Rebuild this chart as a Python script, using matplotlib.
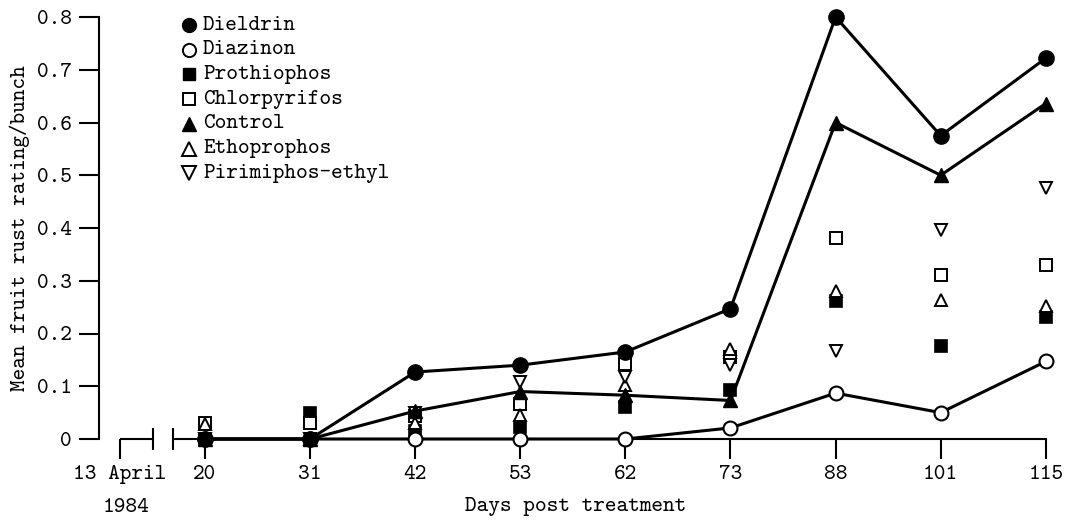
import matplotlib
matplotlib.use("Agg")
import matplotlib.pyplot as plt
import numpy as np
from matplotlib.lines import Line2D

# ---- data ----
days = [20, 31, 42, 53, 62, 73, 88, 101, 115]
dieldrin     = [0.0, 0.0, 0.127, 0.140, 0.165, 0.247, 0.800, 0.575, 0.722]
diazinon     = [0.0, 0.0, 0.0, 0.0, 0.0, 0.021, 0.087, 0.050, 0.147]
control      = [0.0, 0.0, 0.053, 0.090, 0.083, 0.073, 0.600, 0.500, 0.636]
prothiophos  = [0.0, 0.050, 0.016, 0.022, 0.060, 0.093, 0.262, 0.177, 0.232]
chlorpyrifos = [0.030, 0.030, 0.043, 0.066, 0.143, 0.155, 0.381, 0.310, 0.329]
ethoprophos  = [0.028, 0.0, 0.030, 0.045, 0.102, 0.170, 0.281, 0.263, 0.252]
pirimiphos   = [0.0, 0.0, 0.050, 0.108, 0.118, 0.140, 0.167, 0.397, 0.475]
y_ticks = [0, 0.1, 0.2, 0.3, 0.4, 0.5, 0.6, 0.7, 0.8]
y_tick_labels = ['0', '0.1', '0.2', '0.3', '0.4', '0.5', '0.6', '0.7', '0.8']
start_label = "13 April"
start_year = "1984"
labels = ["Dieldrin", "Diazinon", "Prothiophos", "Chlorpyrifos", "Control",
          "Ethoprophos", "Pirimiphos-ethyl"]

FONT = ["cmtt10", "DejaVu Sans Mono"]
plt.rcParams['font.family'] = FONT
plt.rcParams['axes.unicode_minus'] = False
FS = 16

W, H = 1075, 521
fig = plt.figure(figsize=(W / 100, H / 100), dpi=100)

# pixel geometry of the axes
px_per_cat = 105.1
x0_px = 205.0          # pixel of first category
yaxis_px = 99.0
right_px = 1062.0
y0_px = 439.0
px_per_unit = 527.5
ymin, ymax = 0.0, 0.82
xmin = (yaxis_px - x0_px) / px_per_cat
xmax = (right_px - x0_px) / px_per_cat
top_px = y0_px - ymax * px_per_unit
bot_px = y0_px - ymin * px_per_unit
ax = fig.add_axes([yaxis_px / W, 1 - bot_px / H, (right_px - yaxis_px) / W, (bot_px - top_px) / H])
ax.set_xlim(xmin, xmax)
ax.set_ylim(ymin, ymax)
ax.patch.set_alpha(0)

xs = np.arange(len(days))
start_x = (120 - x0_px) / px_per_cat
brk_l = (153 - x0_px) / px_per_cat
brk_r = (173 - x0_px) / px_per_cat

# spines
for s in ['top', 'right']:
    ax.spines[s].set_visible(False)
ax.spines['left'].set_bounds(0, 0.8)
ax.spines['left'].set_linewidth(1.5)
ax.spines['bottom'].set_bounds(brk_r, xs[-1])
ax.spines['bottom'].set_linewidth(1.5)
ax.set_yticks(y_ticks)
ax.set_yticklabels(y_tick_labels)
ax.tick_params(axis='y', length=14.5, width=1.5, pad=5, labelsize=FS)

# broken x axis
lk = dict(color='black', lw=1.5, clip_on=False, zorder=1, solid_capstyle='butt')
ax.plot([start_x, brk_l], [0, 0], **lk)
bh = 11 / px_per_unit
ax.plot([brk_l, brk_l], [-bh, bh], **lk)
ax.plot([brk_r, brk_r], [-bh, bh], **lk)
ax.set_xticks([start_x] + list(xs))
ax.set_xticklabels([start_label] + [str(d) for d in days])
ax.tick_params(axis='x', length=14.5, width=1.5, pad=4, labelsize=FS, direction='out')
ax.text(start_x + 6 / px_per_cat, -68 / px_per_unit, start_year, ha='center', va='center', fontsize=FS)
ax.set_xlabel("Days post treatment", fontsize=FS)
ax.xaxis.set_label_coords((576 - yaxis_px) / (right_px - yaxis_px), -68 / (bot_px - top_px))
ax.xaxis.label.set_va('center')
ax.set_ylabel("Mean fruit rust rating/bunch", fontsize=FS)
ax.yaxis.set_label_coords(-(yaxis_px - 20) / (right_px - yaxis_px), 0.4 / ymax)
ax.yaxis.label.set_va('center')

LW = 2.2
# scatter-only series
ax.plot(xs, prothiophos, ls='none', marker='s', ms=8.5, mfc='black', mec='black', mew=1.2, clip_on=False, zorder=3)
ax.plot(xs, chlorpyrifos, ls='none', marker='s', ms=8.5, mfc='white', mec='black', mew=1.4, clip_on=False, zorder=3)
ax.plot(xs, ethoprophos, ls='none', marker='^', ms=9, mfc='white', mec='black', mew=1.4, clip_on=False, zorder=3)
ax.plot(xs, pirimiphos, ls='none', marker='v', ms=9, mfc='white', mec='black', mew=1.4, clip_on=False, zorder=3)
# line series
ax.plot(xs, control, color='black', lw=LW, marker='^', ms=10, mfc='black', mec='black', clip_on=False, zorder=4)
ax.plot(xs, diazinon, color='black', lw=LW, marker='o', ms=10, mfc='white', mec='black', mew=1.5, clip_on=False, zorder=5)
ax.plot(xs, dieldrin, color='black', lw=LW, marker='o', ms=11, mfc='black', mec='black', clip_on=False, zorder=6)

# legend (manual keys in figure pixels)
keys = [
    dict(marker='o', ms=10, mfc='black', mec='black'),
    dict(marker='o', ms=9.5, mfc='white', mec='black', mew=1.4),
    dict(marker='s', ms=8.5, mfc='black', mec='black'),
    dict(marker='s', ms=8.5, mfc='white', mec='black', mew=1.4),
    dict(marker='^', ms=9.5, mfc='black', mec='black'),
    dict(marker='^', ms=9.5, mfc='white', mec='black', mew=1.4),
    dict(marker='v', ms=9.5, mfc='white', mec='black', mew=1.4),
]
for i, (k, lab) in enumerate(zip(keys, labels)):
    yp = 25 + 24.7 * i
    fig.add_artist(Line2D([189 / W], [1 - yp / H], ls='none', transform=fig.transFigure, **k))
    fig.text(203 / W, 1 - yp / H, lab, ha='left', va='center', fontsize=FS)

fig.savefig("out.png", dpi=100, facecolor='white')
